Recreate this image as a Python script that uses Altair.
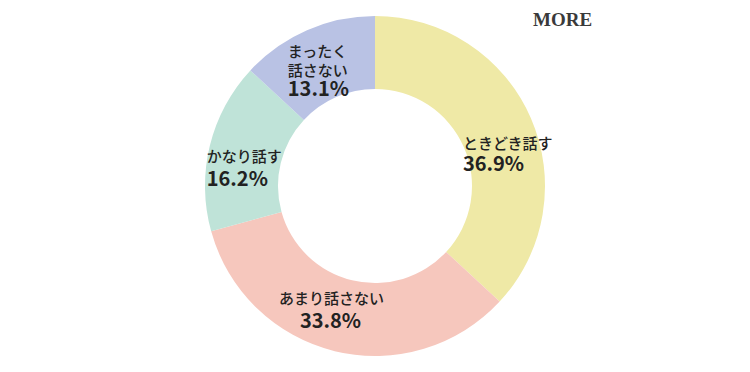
import altair as alt
import pandas as pd

categories = ["ときどき話す", "あまり話さない", "かなり話す", "まったく話さない"]
labels = ["ときどき話す", "あまり話さない", "かなり話す", "まったく\n話さない"]
values = [36.9, 33.8, 16.2, 13.1]
pct_labels = ["36.9%", "33.8%", "16.2%", "13.1%"]
colors = ["#EFE9A6", "#F6C7BD", "#BFE3D8", "#B9C2E4"]

df = pd.DataFrame({
    "cat": categories,
    "label": labels,
    "value": values,
    "pct": pct_labels,
    "order": list(range(len(categories))),
})

JP = "Noto Sans CJK JP"
theta_scale = alt.Scale(domain=[0, 100])
base = alt.Chart(df)

arc = base.mark_arc(outerRadius=170, innerRadius=97).encode(
    theta=alt.Theta("value:Q", stack=True, scale=theta_scale),
    color=alt.Color("cat:N", scale=alt.Scale(domain=categories, range=colors), legend=None),
    order=alt.Order("order:Q"),
)

with_mid = base.transform_window(
    cum="sum(value)", sort=[alt.SortField("order")], frame=[None, 0]
).transform_calculate(mid="datum.cum - datum.value / 2")

# (align, label dx, label dy, pct dx, pct dy)
offsets = {
    "ときどき話す": ("left", -34, 11, -34, 32),
    "あまり話さない": ("center", -12, -16, -13, 7),
    "かなり話す": ("left", -39, 2, -39, 25),
    "まったく話さない": ("left", -34, -12, -34, 26),
}

layers = [arc]
for cat in categories:
    align, ldx, ldy, pdx, pdy = offsets[cat]
    sub = with_mid.transform_filter(alt.datum.cat == cat)
    th = alt.Theta("mid:Q", stack=None, scale=theta_scale)
    layers.append(
        sub.mark_text(radius=133, align=align, baseline="middle", dx=ldx, dy=ldy,
                      font=JP, fontSize=15, fontWeight=500, lineBreak="\n", lineHeight=19,
                      color="#222222").encode(theta=th, text="label:N")
    )
    layers.append(
        sub.mark_text(radius=133, align=align, baseline="middle", dx=pdx, dy=pdy,
                      font=JP, fontSize=20, fontWeight="bold",
                      color="#222222").encode(theta=th, text="pct:N")
    )

logo = alt.Chart(pd.DataFrame({"t": ["MORE"]})).mark_text(
    align="left", baseline="alphabetic", font="Liberation Serif", fontSize=19,
    fontWeight="bold", color="#3a3a3a"
).encode(x=alt.value(533), y=alt.value(26), text="t:N")
layers.append(logo)

chart = alt.layer(*layers).properties(
    width=750, height=372, padding=0, autosize=alt.AutoSizeParams(type="none"),
    background="white",
).configure_view(stroke=None)

chart.save("out.html", embed_options={"renderer": "svg", "actions": False})
